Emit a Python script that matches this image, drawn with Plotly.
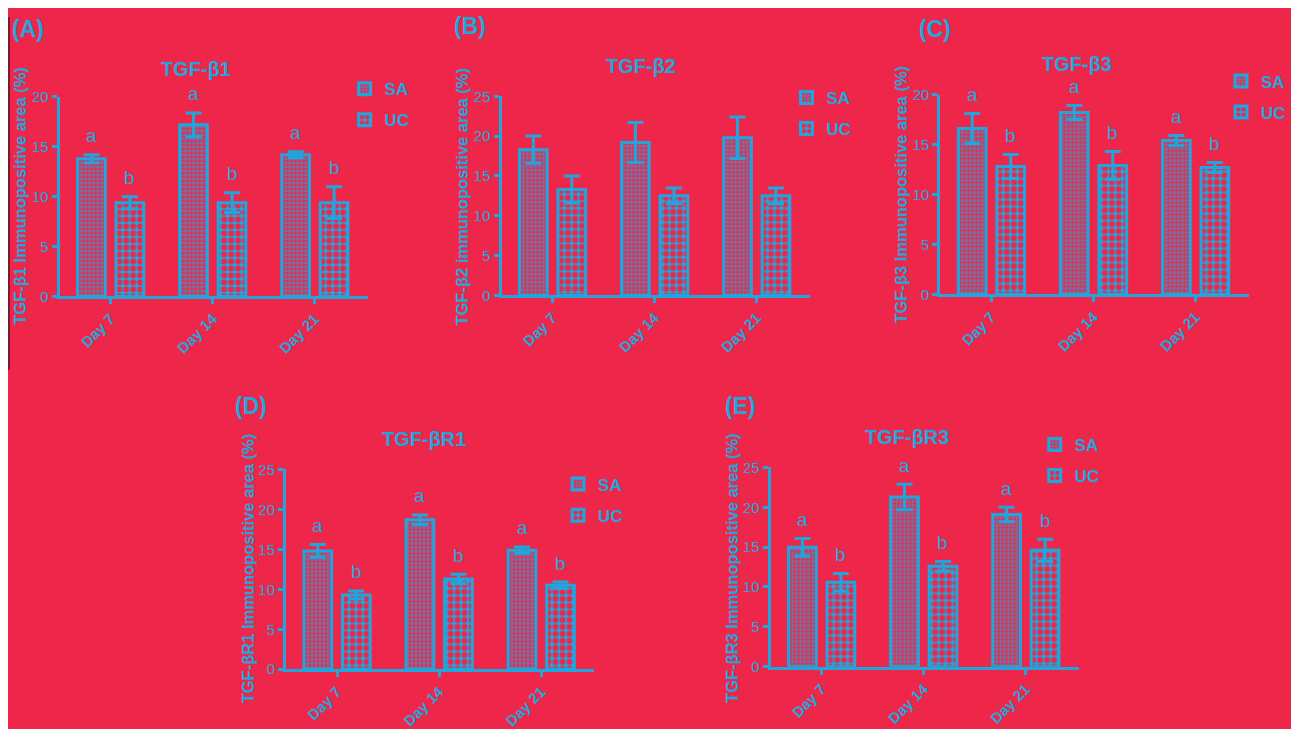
import plotly.graph_objects as go

W, H = 1283, 721  # figure size that fits the window inside the 8px page margin
OFF = 8  # page offset of the figure (body margin)
CYAN = "#1FA6DD"
RED = "#EE2649"
FONT = "Liberation Sans"

days = ["Day 7", "Day 14", "Day 21"]

# TGF-b1
b1_sa = [13.8, 17.2, 14.2]
b1_sa_err = [0.4, 1.2, 0.3]
b1_uc = [9.4, 9.4, 9.4]
b1_uc_err = [0.6, 1.0, 1.6]

# TGF-b2
b2_sa = [18.3, 19.2, 19.8]
b2_sa_err = [1.7, 2.5, 2.6]
b2_uc = [13.3, 12.5, 12.5]
b2_uc_err = [1.7, 1.0, 1.0]

# TGF-b3
b3_sa = [16.6, 18.2, 15.4]
b3_sa_err = [1.5, 0.7, 0.5]
b3_uc = [12.8, 12.9, 12.7]
b3_uc_err = [1.2, 1.4, 0.5]

# TGF-bR1
r1_sa = [14.8, 18.7, 14.9]
r1_sa_err = [0.8, 0.6, 0.4]
r1_uc = [9.3, 11.3, 10.5]
r1_uc_err = [0.5, 0.6, 0.4]

# TGF-bR3
r3_sa = [15.0, 21.3, 19.1]
r3_sa_err = [1.1, 1.6, 0.9]
r3_uc = [10.6, 12.6, 14.6]
r3_uc_err = [1.1, 0.6, 1.4]

sig_sa = ["a", "a", "a"]
sig_uc = ["b", "b", "b"]

panels = [
    dict(tag="(A)", title="TGF-β1", ytitle="TGF-β1 Immunopositive area (%)",
         sa=b1_sa, sa_err=b1_sa_err, uc=b1_uc, uc_err=b1_uc_err, letters=True, ymax=20,
         x0=60, y0=297, ytop=90.7, leg=(367, 80), tpos=(197, 62), tagpos=(10, 20), ytpos=(20, 193)),
    dict(tag="(B)", title="TGF-β2", ytitle="TGF-β2 immunopositive area (%)",
         sa=b2_sa, sa_err=b2_sa_err, uc=b2_uc, uc_err=b2_uc_err, letters=False, ymax=25,
         x0=505, y0=296, ytop=90, leg=(812, 89), tpos=(645, 59), tagpos=(455, 17), ytpos=(465, 194)),
    dict(tag="(C)", title="TGF-β3", ytitle="TGF-β3 Immunopositive area (%)",
         sa=b3_sa, sa_err=b3_sa_err, uc=b3_uc, uc_err=b3_uc_err, letters=True, ymax=20,
         x0=947, y0=295, ytop=88.3, leg=(1250, 72), tpos=(1085, 57), tagpos=(923, 20), ytpos=(907, 192)),
    dict(tag="(D)", title="TGF-βR1", ytitle="TGF-βR1 Immunopositive area (%)",
         sa=r1_sa, sa_err=r1_sa_err, uc=r1_uc, uc_err=r1_uc_err, letters=True, ymax=25,
         x0=288, y0=682.7, ytop=476, leg=(582, 489), tpos=(427, 445), tagpos=(235, 410), ytpos=(250, 578)),
    dict(tag="(E)", title="TGF-βR3", ytitle="TGF-βR3 Immunopositive area (%)",
         sa=r3_sa, sa_err=r3_sa_err, uc=r3_uc, uc_err=r3_uc_err, letters=True, ymax=25,
         x0=776, y0=680, ytop=474, leg=(1062, 448), tpos=(913, 442), tagpos=(728, 410), ytpos=(737, 578)),
]


def px(x):
    return (x - OFF) / W


def py(y):
    return 1 - (y - OFF) / H


BARGAP = 0.246
SPACING = 103.5  # px per category
patterns = {
    "SA": dict(shape="+", size=4, solidity=0.35, fgcolor=CYAN, bgcolor=RED, fillmode="replace"),
    "UC": dict(shape=".", size=7, solidity=0.55, fgcolor=RED, bgcolor=CYAN, fillmode="replace"),
}

fig = go.Figure()
annotations = []
layout_axes = {}

for n, p in enumerate(panels, start=1):
    sfx = "" if n == 1 else str(n)
    xa, ya = f"x{sfx}", f"y{sfx}"
    leg = "legend" if n == 1 else f"legend{n}"
    x = [0, 1, 2]
    for grp, vals, errs in [("SA", p["sa"], p["sa_err"]), ("UC", p["uc"], p["uc_err"])]:
        fig.add_trace(go.Bar(
            x=x, y=vals, name=grp, xaxis=xa, yaxis=ya, legend=leg,
            legendgroup=f"{n}{grp}",
            marker=dict(color=RED, line=dict(color=CYAN, width=3), pattern=patterns[grp]),
            error_y=dict(type="data", array=errs, color=CYAN, thickness=3, width=8),
        ))

    slot = (1 - BARGAP) / 2
    if p["letters"]:
        for i in range(3):
            for off, vals, errs, lab in [(-slot / 2, p["sa"], p["sa_err"], sig_sa),
                                         (slot / 2, p["uc"], p["uc_err"], sig_uc)]:
                annotations.append(dict(
                    xref=xa, yref=ya, x=i + off, y=vals[i] + errs[i], yshift=19,
                    text=lab[i], showarrow=False, yanchor="middle",
                    font=dict(family=FONT, size=19, color=CYAN)))

    x_left = px(p["x0"])
    layout_axes[f"xaxis{sfx}"] = dict(
        domain=[x_left, x_left + 3 * SPACING / W], range=[-0.5, 2.52],
        anchor=ya, tickvals=x, ticktext=days, tickangle=-45,
        showline=True, linecolor=CYAN, linewidth=3, ticks="outside", ticklen=5,
        tickwidth=2.5, tickcolor=CYAN, showgrid=False, zeroline=False,
        tickfont=dict(family=FONT, size=15, color=CYAN, weight="bold"))
    layout_axes[f"yaxis{sfx}"] = dict(
        domain=[py(p["y0"]), py(p["ytop"])], range=[0, p["ymax"]],
        anchor=xa, dtick=5, showline=True, linecolor=CYAN, linewidth=3,
        ticks="outside", ticklen=5, tickwidth=2.5, tickcolor=CYAN,
        showgrid=False, zeroline=False,
        tickfont=dict(family=FONT, size=15, color=CYAN))

    layout_axes[leg] = dict(
        x=px(p["leg"][0] - 20), y=py(p["leg"][1] - 16),
        xanchor="left", yanchor="top", bgcolor="rgba(0,0,0,0)",
        tracegroupgap=6, font=dict(family=FONT, size=17, color=CYAN, weight="bold"))

    annotations.append(dict(xref="paper", yref="paper", x=px(p["tpos"][0]), y=py(p["tpos"][1]),
                            text=p["title"], showarrow=False, xanchor="center", yanchor="middle",
                            font=dict(family=FONT, size=20, color=CYAN, weight="bold")))
    annotations.append(dict(xref="paper", yref="paper", x=px(p["tagpos"][0]), y=py(p["tagpos"][1]),
                            text=p["tag"], showarrow=False, xanchor="left", yanchor="middle",
                            font=dict(family=FONT, size=23, color=CYAN, weight="bold")))
    annotations.append(dict(xref="paper", yref="paper", x=px(p["ytpos"][0]), y=py(p["ytpos"][1]),
                            text=p["ytitle"], showarrow=False, textangle=-90,
                            xanchor="center", yanchor="middle",
                            font=dict(family=FONT, size=16.5, color=CYAN, weight="bold")))

# dark edge line on the left of the top row
shapes = [
    dict(type="line", xref="paper", yref="paper", x0=px(9), x1=px(9), y0=1, y1=py(373),
         line=dict(color="#7A1A2E", width=2), layer="below"),
]

fig.update_layout(
    width=W, height=H, margin=dict(l=0, r=0, t=0, b=0),
    paper_bgcolor=RED, plot_bgcolor="rgba(0,0,0,0)",
    barmode="group", bargap=BARGAP, bargroupgap=0.28,
    showlegend=True, annotations=annotations, shapes=shapes,
    **layout_axes,
)

fig.write_html("out.html")
